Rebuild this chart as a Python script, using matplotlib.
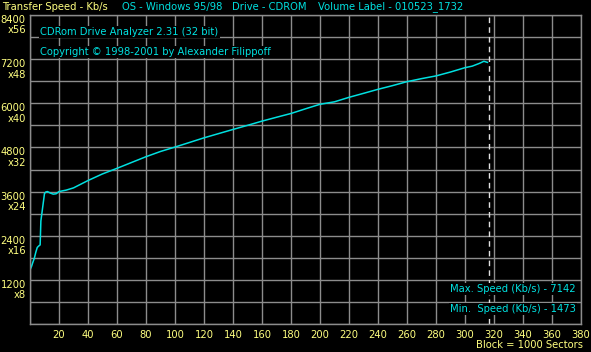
import numpy as np
import matplotlib
matplotlib.use('Agg')
import matplotlib.pyplot as plt

# transfer speed curve (block number, Kb/s)
blocks = [0, 1, 2, 3, 4, 5, 6, 7, 7.5, 8, 9, 10, 11, 12, 14, 16, 18, 20, 25, 30,
          40, 50, 60, 70, 80, 90, 100, 110, 120, 130, 140, 150, 160, 170, 180,
          190, 200, 210, 220, 230, 240, 250, 260, 270, 280, 290, 300, 305, 310,
          313, 314, 315.5]
speed = [1473, 1560, 1680, 1790, 1950, 2080, 2120, 2150, 2800, 2950, 3250, 3550,
         3590, 3600, 3560, 3530, 3540, 3600, 3640, 3700, 3900, 4080, 4232, 4390,
         4548, 4690, 4810, 4935, 5061, 5175, 5289, 5400, 5515, 5620, 5723, 5850,
         5973, 6040, 6162, 6270, 6380, 6480, 6588, 6670, 6744, 6850, 6968, 7010,
         7086, 7142, 7130, 7112]
end_block = 316.3

x_ticks = list(range(20, 381, 20))
y_ticks = [1200, 2400, 3600, 4800, 6000, 7200, 8400]
y_labels = ['%d\nx%d' % (v, v // 150) for v in y_ticks]

header = [("Transfer Speed - Kb/s", 2, 'yellow'),
          ("OS - Windows 95/98", 122, 'cyan'),
          ("Drive - CDROM", 232, 'cyan'),
          ("Volume Label - 010523_1732", 318, 'cyan')]
max_txt = "Max. Speed (Kb/s) - %d" % max(speed)
min_txt = "Min.  Speed (Kb/s) - %d" % min(speed)

W, H = 591, 352
YEL = '#ffff80'
CYN = '#00e0e0'
GRID = '#8c8c8c'
FS = 7.2
plt.rcParams['font.family'] = ['DejaVu Sans']


def px(x, y):
    return x / W, 1 - y / H


fig = plt.figure(figsize=(W / 100, H / 100), dpi=100, facecolor='black')
ax = fig.add_axes([30 / W, (H - 324) / H, 551 / W, 309 / H])
ax.set_facecolor('black')
ax.set_xlim(0, 380)
ax.set_ylim(0, 8400)

ax.set_xticks(x_ticks)
ax.set_xticklabels([str(v) for v in x_ticks], color=YEL, fontsize=FS)
ax.set_xticks(range(0, 381, 20), minor=True)
ax.set_yticks(y_ticks)
ax.set_yticklabels(y_labels, color=YEL, fontsize=FS, va='top', ha='right',
                   linespacing=1.05)
ax.set_yticks(range(0, 8401, 600), minor=True)
ax.tick_params(which='both', length=0)
ax.tick_params(axis='x', pad=4)
ax.tick_params(axis='y', pad=3)
ax.grid(True, which='both', color=GRID, lw=1)
for s in ax.spines.values():
    s.set_color(GRID)
    s.set_linewidth(1)

ax.plot(blocks, speed, color=CYN, lw=1.1)
ax.axvline(end_block, color='#e0e0e0', lw=1, ls=(0, (4, 3)))

box = dict(facecolor='black', edgecolor='none', pad=1)
fig.text(*px(40, 32), "CDRom Drive Analyzer 2.31 (32 bit)", color=CYN,
         fontsize=FS, va='center', ha='left', bbox=box)
fig.text(*px(40, 52), "Copyright \u00a9 1998-2001 by Alexander Filippoff",
         color=CYN, fontsize=FS, va='center', ha='left', bbox=box)
fig.text(*px(576, 289), max_txt, color=CYN, fontsize=FS, ha='right',
         va='center', bbox=box)
fig.text(*px(576, 309), min_txt, color=CYN, fontsize=FS, ha='right',
         va='center', bbox=box)

for txt, x0, c in header:
    fig.text(*px(x0, 7), txt, color=YEL if c == 'yellow' else CYN, fontsize=FS,
             ha='left', va='center')
fig.text(*px(583, 345), "Block = 1000 Sectors", color=YEL, fontsize=FS,
         ha='right', va='center')

fig.savefig('out.png', dpi=100, facecolor='black')
